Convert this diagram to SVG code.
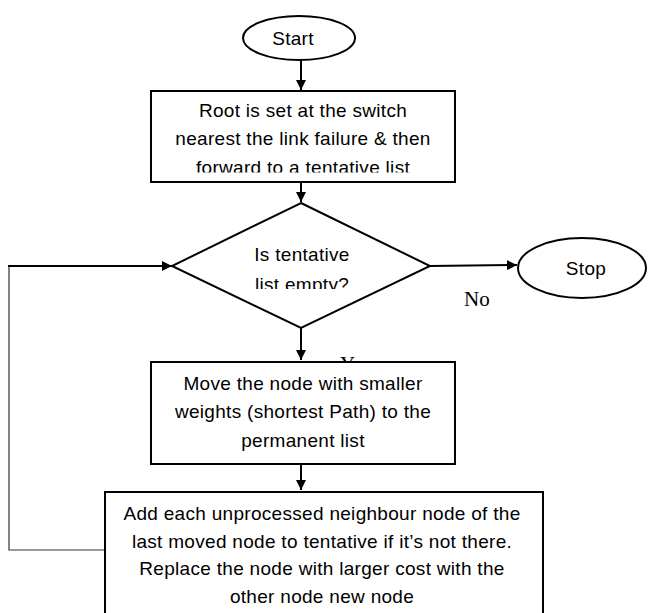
<svg xmlns="http://www.w3.org/2000/svg" width="649" height="613" viewBox="0 0 649 613">
<style>
.shape{fill:#fff;stroke:#000;stroke-width:2}
.t{font-family:"Liberation Sans",Arial,sans-serif;font-size:19px;letter-spacing:0.3px;fill:#000;text-anchor:middle}
.s{font-family:"Liberation Serif","Times New Roman",serif;font-size:21px;fill:#000}
.c{fill:none;stroke:#000;stroke-width:2}
.loop{fill:none;stroke:#333;stroke-width:1.2}
</style>
<defs>
<marker id="ah" viewBox="0 0 10 10" refX="10" refY="5" markerWidth="10" markerHeight="10" markerUnits="userSpaceOnUse" orient="auto">
<path d="M0,0 L10,5 L0,10 z" fill="#000"/>
</marker>
<clipPath id="cp1"><rect x="151" y="91" width="304" height="81.5"/></clipPath>
<clipPath id="cp2"><rect x="200" y="230" width="200" height="59"/></clipPath>
<clipPath id="cp3"><rect x="330" y="340" width="40" height="21"/></clipPath>
</defs>
<g id="connectors">
<path class="c" d="M301,60 L301,90" marker-end="url(#ah)"/>
<path class="c" d="M301,182 L301,202" marker-end="url(#ah)"/>
<path class="c" d="M430,266 L517,265" marker-end="url(#ah)"/>
<path class="c" d="M301,328 L301,360" marker-end="url(#ah)"/>
<path class="c" d="M301,464 L301,490" marker-end="url(#ah)"/>
<path class="loop" d="M104,550 L9,550 L9,266"/>
<path class="c" d="M8,266 L172,266" stroke-width="1.5" marker-end="url(#ah)"/>
<text class="s" x="464" y="306">No</text>
<text class="s" x="340" y="371" clip-path="url(#cp3)">Y</text>
</g>
<g id="start">
<ellipse class="shape" cx="299" cy="38" rx="56" ry="22"/>
<text class="t" x="293" y="45">Start</text>
</g>
<g id="root">
<rect class="shape" x="151" y="91" width="304" height="91"/>
<g clip-path="url(#cp1)">
<text class="t" x="303" y="117">Root is set at the switch</text>
<text class="t" x="303" y="145">nearest the link failure &amp; then</text>
<text class="t" x="303" y="174">forward to a tentative list</text>
</g>
</g>
<g id="decision">
<polygon class="shape" points="301,203 430,266 301,328 172,266"/>
<g clip-path="url(#cp2)">
<text class="t" x="302" y="261">Is tentative</text>
<text class="t" x="302" y="291">list empty?</text>
</g>
</g>
<g id="stop">
<ellipse class="shape" cx="582" cy="268" rx="64" ry="30"/>
<text class="t" x="586" y="275">Stop</text>
</g>
<g id="move">
<rect class="shape" x="151" y="362" width="304" height="102"/>
<text class="t" x="303" y="390">Move the node with smaller</text>
<text class="t" x="303" y="418">weights (shortest Path) to the</text>
<text class="t" x="303" y="447">permanent list</text>
</g>
<g id="add">
<rect class="shape" x="105" y="492" width="438" height="130"/>
<text class="t" x="322" y="520">Add each unprocessed neighbour node of the</text>
<text class="t" x="322" y="548">last moved node to tentative if it’s not there.</text>
<text class="t" x="322" y="575">Replace the node with larger cost with the</text>
<text class="t" x="322" y="603">other node new node</text>
</g>
</svg>
